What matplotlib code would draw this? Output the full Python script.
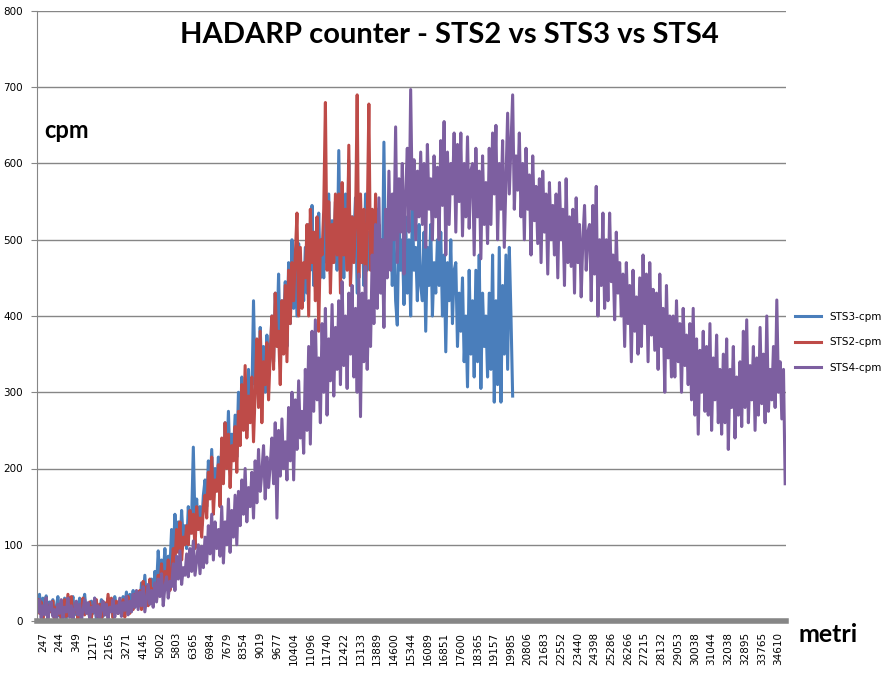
import matplotlib
matplotlib.use("Agg")
import matplotlib.pyplot as plt
import numpy as np

# x labels (every 10th category shown)
tick_labels = ["247", "244", "349", "1217", "2165", "3271", "4145", "5002", "5803", "6365",
               "6984", "7679", "8354", "9019", "9677", "10404", "11096", "11740", "12422",
               "13133", "13889", "14600", "15344", "16089", "16851", "17600", "18365",
               "19157", "19985", "20806", "21683", "22552", "23440", "24398", "25286",
               "26266", "27215", "28132", "29053", "30038", "31044", "32038", "32895",
               "33765", "34610"]

sts3_cpm = [20, 35, 8, 30, 15, 33, 5, 25, 12, 28,
            0, 18, 32, 6, 22, 14, 30, 3, 26, 10,
            20, 32, 8, 24, 15, 30, 5, 22, 35, 12,
            18, 4, 26, 10, 30, 2, 20, 12, 28, 6,
            22, 8, 30, 14, 25, 5, 32, 18, 10, 26,
            15, 32, 20, 38, 12, 35, 22, 40, 18, 30,
            38, 20, 50, 30, 60, 25, 45, 35, 55, 28,
            65, 45, 92, 55, 80, 60, 95, 50, 85, 70,
            120, 85, 140, 100, 130, 90, 145, 105, 125, 95,
            150, 115, 135, 228, 130, 160, 120, 150, 125, 165,
            185, 150, 210, 170, 225, 160, 200, 175, 215, 165,
            230, 195, 260, 210, 275, 200, 245, 220, 270, 215,
            300, 240, 320, 270, 310, 250, 330, 265, 290, 420,
            310, 350, 290, 385, 320, 360, 300, 375, 330, 345,
            400, 340, 430, 370, 455, 350, 420, 390, 445, 360,
            470, 390, 500, 410, 480, 400, 495, 430, 460, 420,
            490, 430, 520, 460, 545, 440, 510, 470, 535, 450,
            500, 450, 540, 470, 560, 455, 525, 480, 550, 460,
            617, 470, 540, 450, 560, 480, 604, 440, 530, 500,
            555, 430, 540, 470, 520, 440, 560, 460, 510, 480,
            470, 520, 420, 540, 460, 500, 430, 628, 450, 510,
            470, 540, 440, 510, 420, 388, 530, 460, 500, 415,
            530, 430, 500, 400, 545, 460, 490, 420, 520, 440,
            420, 510, 380, 490, 440, 520, 400, 470, 430, 500,
            440, 510, 400, 480, 353, 470, 420, 500, 390, 460,
            470, 360, 430, 380, 450, 340, 400, 307, 460, 350,
            420, 320, 460, 340, 480, 305, 430, 360, 400, 320,
            430, 330, 480, 287, 420, 310, 490, 287, 440, 350,
            480, 330, 490, 400, 295]

sts2_cpm = [28, 10, 25, 0, 15, 30, 5, 20, 12, 26,
            2, 18, 8, 22, 0, 14, 28, 6, 35, 10,
            32, 4, 16, 24, 2, 20, 12, 30, 8, 18,
            10, 25, 3, 20, 14, 28, 6, 22, 0, 16,
            24, 8, 35, 12, 30, 4, 20, 26, 10, 18,
            12, 28, 5, 22, 32, 10, 25, 15, 35, 20,
            25, 40, 15, 52, 30, 45, 20, 55, 28, 42,
            45, 28, 60, 42, 75, 35, 65, 50, 80, 40,
            65, 95, 75, 120, 90, 130, 80, 110, 100, 125,
            100, 145, 115, 140, 95, 150, 120, 135, 110, 148,
            165, 135, 195, 160, 215, 140, 185, 170, 205, 150,
            240, 180, 260, 200, 245, 175, 230, 210, 255, 195,
            275, 230, 310, 250, 335, 240, 295, 260, 320, 235,
            300, 370, 280, 380, 260, 340, 310, 365, 290, 350,
            400, 330, 430, 360, 380, 310, 420, 350, 440, 340,
            460, 390, 470, 420, 480, 535, 400, 490, 410, 470,
            450, 520, 400, 540, 470, 510, 420, 530, 380, 500,
            480, 540, 680, 460, 550, 430, 520, 470, 560, 480,
            560, 430, 575, 480, 540, 460, 624, 440, 530, 470,
            520, 690, 450, 560, 470, 540, 430, 520, 678, 460,
            540, 430, 560, 480, 520, 440, 470]

sts4_cpm = [12, 28, 4, 20, 8, 30, 2, 18, 25, 6,
            15, 0, 22, 10, 28, 3, 18, 12, 30, 5,
            20, 2, 16, 26, 8, 22, 0, 14, 28, 10,
            24, 4, 18, 12, 30, 6, 20, 2, 16, 26,
            8, 22, 3, 18, 12, 28, 5, 20, 10, 30,
            6, 24, 14, 32, 8, 26, 12, 35, 18, 40,
            15, 38, 20, 45, 12, 30, 48, 22, 40, 18,
            50, 25, 55, 32, 62, 20, 45, 58, 30, 52,
            45, 75, 40, 85, 55, 92, 48, 70, 60, 88,
            58, 95, 65, 105, 60, 80, 100, 62, 98, 70,
            110, 76, 125, 88, 140, 80, 130, 95, 120, 85,
            150, 76, 130, 100, 160, 90, 145, 110, 165, 100,
            170, 125, 185, 140, 200, 130, 175, 150, 195, 135,
            210, 155, 225, 170, 195, 230, 160, 215, 175, 205,
            240, 180, 260, 135, 250, 190, 265, 200, 235, 185,
            280, 210, 300, 185, 290, 225, 315, 240, 275, 220,
            330, 250, 360, 232, 380, 275, 395, 290, 345, 260,
            390, 300, 410, 270, 370, 315, 415, 295, 385, 330,
            420, 310, 445, 335, 400, 305, 430, 350, 440, 320,
            410, 300, 455, 268, 430, 340, 465, 330, 420, 360,
            480, 390, 520, 410, 555, 430, 500, 385, 540, 450,
            590, 460, 560, 500, 648, 470, 580, 510, 600, 455,
            560, 620, 510, 697, 540, 605, 500, 590, 530, 615,
            520, 600, 490, 625, 540, 580, 500, 610, 530, 595,
            500, 630, 545, 655, 480, 615, 520, 600, 560, 640,
            510, 625, 550, 640, 505, 600, 530, 635, 515, 590,
            600, 480, 620, 530, 590, 475, 610, 520, 575, 495,
            620, 520, 640, 560, 650, 500, 600, 540, 630, 490,
            580, 666, 560, 625, 690, 540, 610, 565, 640, 530,
            600, 500, 620, 540, 585, 480, 610, 525, 570, 495,
            580, 470, 590, 510, 560, 455, 575, 500, 545, 480,
            560, 450, 575, 500, 540, 440, 580, 470, 530, 465,
            540, 430, 555, 470, 520, 425, 500, 545, 460, 510,
            520, 420, 545, 455, 570, 400, 500, 440, 535, 410,
            500, 420, 535, 445, 480, 395, 510, 430, 470, 400,
            455, 360, 470, 390, 440, 340, 460, 380, 425, 350,
            450, 360, 480, 390, 455, 340, 470, 375, 435, 355,
            430, 330, 455, 360, 410, 300, 440, 345, 400, 320,
            400, 320, 420, 340, 390, 300, 410, 335, 375, 310,
            390, 290, 410, 270, 370, 245, 355, 300, 380, 275,
            360, 270, 390, 250, 345, 290, 375, 260, 330, 245,
            350, 260, 370, 225, 330, 280, 360, 240, 320, 270,
            340, 255, 380, 280, 395, 260, 335, 290, 360, 250,
            345, 270, 385, 285, 350, 260, 400, 275, 330, 290,
            360, 280, 421, 300, 340, 265, 330, 180]

n_cat = len(sts4_cpm)
label_step = 10
label_start = 3

fig = plt.figure(figsize=(8.94, 6.75), dpi=100)
ax = fig.add_axes([37 / 894, 54 / 675, 749 / 894, 610 / 675])

ax.plot(np.arange(len(sts3_cpm)), sts3_cpm, color="#4A7EBB", lw=2.2, label="STS3-cpm")
ax.plot(np.arange(len(sts2_cpm)), sts2_cpm, color="#BE4B48", lw=2.2, label="STS2-cpm")
ax.plot(np.arange(len(sts4_cpm)), sts4_cpm, color="#7D5FA0", lw=2.2, label="STS4-cpm")

ax.set_xlim(-0.5, n_cat - 0.5)
ax.set_ylim(0, 800)
ax.set_yticks(np.arange(0, 801, 100))
ax.yaxis.grid(True, color="#868686", lw=1)
ax.set_axisbelow(True)
ax.tick_params(axis="y", labelsize=7.5, length=4, color="#868686", pad=6)

ax.set_xticks(np.arange(len(tick_labels)) * label_step + label_start)
ax.set_xticklabels(tick_labels, rotation=90, fontsize=7.5)
ax.tick_params(axis="x", length=0, pad=8)

for s in ["top", "right"]:
    ax.spines[s].set_visible(False)
ax.spines["left"].set_color("#868686")
ax.spines["bottom"].set_color("#868686")
ax.spines["bottom"].set_linewidth(4)

fig.text(449 / 894, 1 - 35 / 675, "HADARP counter - STS2 vs STS3 vs STS4", ha="center",
         va="center", fontsize=21, fontweight="bold", family="Lato")
fig.text(44 / 894, 1 - 130 / 675, "cpm", ha="left", va="center", fontsize=17,
         fontweight="bold", family="Lato")
fig.text(799 / 894, 1 - 634 / 675, "metri", ha="left", va="center", fontsize=18,
         fontweight="bold", family="Lato")

ax.legend(loc="center left", bbox_to_anchor=(1.0, 0.457), frameon=False, fontsize=7.5,
          handlelength=2.5, labelspacing=1.5)

fig.savefig("out.png", dpi=100)
